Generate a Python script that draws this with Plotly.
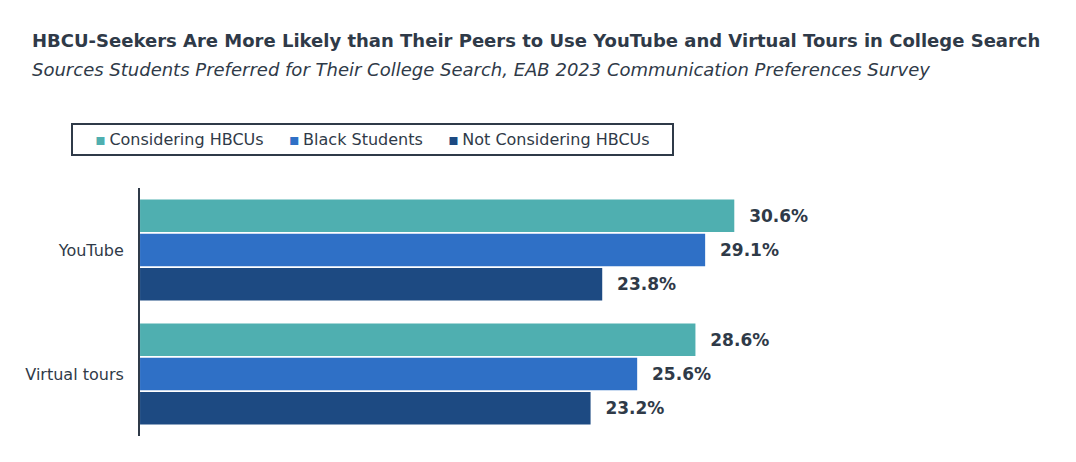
import plotly.graph_objects as go

# 資料
categories = ["YouTube", "Virtual tours"]
series_names = ["Considering HBCUs", "Black Students", "Not Considering HBCUs"]
considering = [30.6, 28.6]
black_students = [29.1, 25.6]
not_considering = [23.8, 23.2]

colors = ["#4fafb0", "#2f70c6", "#1d4a82"]
text_color = "#2f3a48"
font_family = "DejaVu Sans, Verdana, sans-serif"

fig = go.Figure()

for name, values, color in zip(series_names, [considering, black_students, not_considering], colors):
    fig.add_trace(go.Bar(
        name=name,
        y=categories,
        x=values,
        orientation="h",
        marker=dict(color=color, line=dict(width=0)),
        texttemplate="\u00a0\u00a0%{x:.1f}%",
        textposition="outside",
        textfont=dict(family=font_family, size=17, color=text_color, weight="bold"),
        cliponaxis=False,
        showlegend=False,
    ))

fig.update_layout(
    width=1076,
    height=462,
    barmode="group",
    bargap=0.17,
    bargroupgap=0.05,
    paper_bgcolor="white",
    plot_bgcolor="white",
    font=dict(family=font_family, color=text_color),
    margin=dict(l=0, r=0, t=0, b=0),
    xaxis=dict(
        domain=[0.1227, 0.98],
        range=[0, 47.5],
        visible=False,
    ),
    yaxis=dict(
        domain=[0.0736, 0.6104],
        autorange="reversed",
        showline=True, linecolor=text_color, linewidth=2,
        ticks="", ticklabelstandoff=11,
        tickfont=dict(size=16, color=text_color),
        showgrid=False,
    ),
)

# 標題
fig.add_annotation(
    text="<b>HBCU-Seekers Are More Likely than Their Peers to Use YouTube and Virtual Tours in College Search</b>",
    xref="paper", yref="paper", x=0.0204, y=0.9307, xanchor="left", yanchor="middle",
    showarrow=False, font=dict(size=18, color=text_color),
)
fig.add_annotation(
    text="<i>Sources Students Preferred for Their College Search, EAB 2023 Communication Preferences Survey</i>",
    xref="paper", yref="paper", x=0.0204, y=0.866, xanchor="left", yanchor="middle",
    showarrow=False, font=dict(size=18, color=text_color),
)

# 圖例 (小方塊 + 文字，外框)
gap = "\u00a0" * 5
legend_text = gap.join(
    f'<span style="color:{c}">\u25aa</span>\u2009{n}' for n, c in zip(series_names, colors)
)
fig.add_annotation(
    text=legend_text,
    xref="paper", yref="paper", x=0.3388, y=0.7154, xanchor="center", yanchor="middle",
    showarrow=False, font=dict(size=16, color=text_color),
    width=593, height=23, align="center", valign="middle",
    bordercolor=text_color, borderwidth=2, borderpad=3,
)

fig.write_html("out.html")
